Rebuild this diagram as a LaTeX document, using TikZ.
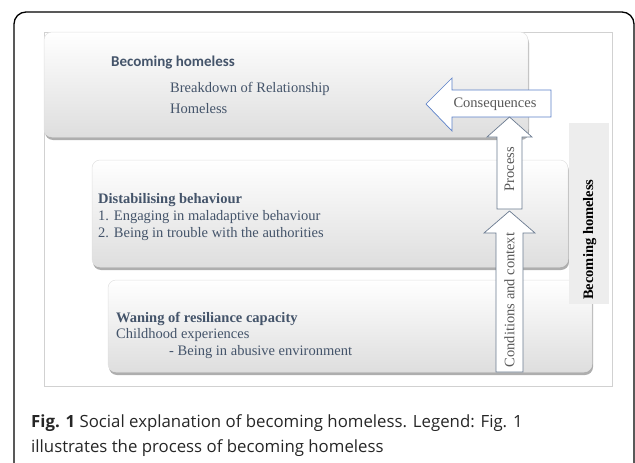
\documentclass[tikz,border=0pt]{standalone}
\usepackage{fontspec}
\setmainfont{Liberation Serif}
\newfontfamily\calibfont{Carlito}
\newfontfamily\capfont{Open Sans}
\usetikzlibrary{shadows}

\definecolor{slate}{HTML}{44546A}
\definecolor{arrowblue}{HTML}{5B80C8}
\definecolor{arrowgray}{HTML}{6A7A90}
\definecolor{labelgray}{HTML}{595959}

\begin{document}
\begin{tikzpicture}[x=1pt, y=-1pt,
  box/.style={rounded corners=8pt, draw=black!12, line width=0.5pt,
    top color=white, middle color=white, bottom color=black!13,
    drop shadow={shadow xshift=1pt, shadow yshift=-3pt, fill=black!45, opacity=0.7},
    inner sep=0pt, outer sep=0pt, anchor=north west},
  txt/.style={font=\fontsize{14.5}{17}\selectfont, text=slate, anchor=base west, inner sep=0pt},
  arr/.style={font=\fontsize{14.5}{17}\selectfont, text=labelgray, inner sep=0pt},
  captxt/.style={anchor=base west, inner sep=0pt, text=black!85, font=\fontsize{16.8}{20}\selectfont\capfont}]

\useasboundingbox (0,0) rectangle (635,463);

% frames
\draw[line width=1.3pt, rounded corners=12pt] (14,463) -- (14,12) -- (634,12) -- (634,463);
\draw[black!18, line width=0.6pt] (44,32) rectangle (612,386);

% boxes
\node[box, minimum width=484pt, minimum height=92pt] (resil) at (108,280) {};
\node[box, minimum width=476pt, minimum height=107pt] (distab) at (92,160) {};
\node[box, minimum width=484pt, minimum height=105pt] (becom) at (44,32) {};

% side label
\fill[black!7] (569,123) rectangle (609,304);
\node[rotate=90, anchor=base west, inner sep=0pt, font=\fontsize{14.5}{17}\selectfont\bfseries] (side) at (593,300) {Becoming homeless};

% texts
\node[txt, font=\fontsize{15}{17}\selectfont\calibfont\bfseries] (b1) at (111,66) {Becoming homeless};
\node[txt] (b2) at (170,92) {Breakdown of Relationship};
\node[txt] (b3) at (170,113) {Homeless};

\node[txt, font=\fontsize{14.5}{17}\selectfont\bfseries] (d1) at (98,203) {Distabilising behaviour};
\node[txt] (d2) at (98,220) {1. Engaging in maladaptive behaviour};
\node[txt] (d3) at (98,237) {2. Being in trouble with the authorities};

\node[txt, font=\fontsize{14.5}{17}\selectfont\bfseries] (w1) at (116,322) {Waning of resiliance capacity};
\node[txt] (w2) at (116,338) {Childhood experiences};
\node[txt] (w3) at (169,355) {- Being in abusive environment};

% arrows
\draw[arrowblue, fill=white, line width=0.7pt] (426,104) -- (452,78) -- (452,90) -- (551,90)
  -- (551,117) -- (452,117) -- (452,131) -- cycle;
\draw[arrowgray, fill=white, line width=0.7pt] (509.5,117) -- (532,137) -- (522,137) -- (522,209)
  -- (497,209) -- (497,137) -- (487,137) -- cycle;
\draw[arrowgray, fill=white, line width=0.7pt] (509.5,211) -- (535,233) -- (523,233) -- (523,372)
  -- (496,372) -- (496,233) -- (484,233) -- cycle;

\node[arr] (cons) at (495,104) {Consequences};
\node[arr, rotate=90] (proc) at (509.5,169) {Process};
\node[arr, rotate=90] (cond) at (509.5,300) {Conditions and context};

% caption
\node[captxt] (cap1) at (31,427) {\textbf{Fig. 1} Social explanation of becoming homeless. Legend: Fig. 1};
\node[captxt] (cap2) at (31,452) {illustrates the process of becoming homeless};

\end{tikzpicture}
\end{document}
